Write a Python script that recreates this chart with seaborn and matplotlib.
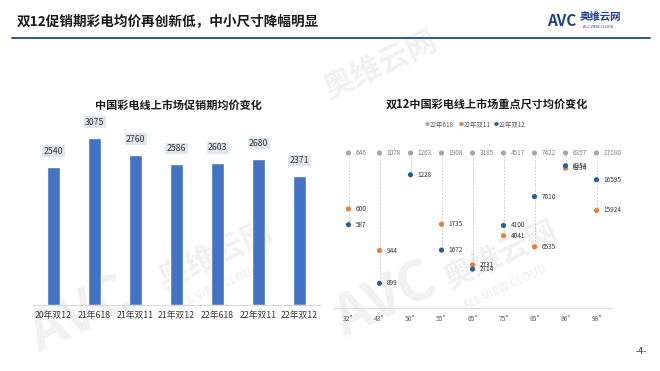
import numpy as np
import pandas as pd
import matplotlib
matplotlib.use("Agg")
import matplotlib.pyplot as plt
import seaborn as sns

sns.set_theme(style="white")
plt.rcParams['font.family'] = ['Noto Sans CJK SC', 'DejaVu Sans']

# ---- data ----
promo_periods = ["20年双12", "21年618", "21年双11", "21年双12", "22年618", "22年双11", "22年双12"]
promo_avg_price = [2540, 3075, 2760, 2586, 2603, 2680, 2371]

sizes = ['32"', '43"', '50"', '55"', '65"', '75"', '85"', '86"', '98"']
price_618 = [646, 1078, 1263, 1908, 3185, 4517, 7422, 6357, 17180]
price_d11 = [600, 944, np.nan, 1735, 2731, 4041, 6535, 6234, 15924]
price_d12 = [587, 899, 1228, 1672, 2714, 4100, 7010, 6254, 16595]
series_names = ["22年618", "22年双11", "22年双12"]

W, H = 660, 371
fig = plt.figure(figsize=(W / 100, H / 100), dpi=100)

def fx(px):
    return px / W

def fy(py):
    return 1 - py / H

# ---- faint watermarks on a background layer ----
axBG = fig.add_axes([0, 0, 1, 1], zorder=-5)
axBG.set_xlim(0, W)
axBG.set_ylim(H, 0)
axBG.axis("off")
wm = dict(color="#F1F1F1", fontweight="bold", rotation=25, ha="center", va="center")
for (x, y) in [(80, 315), (385, 300)]:
    axBG.text(x, y, "AVC", fontsize=40, style="italic", **wm)
for (x, y) in [(215, 255), (500, 255), (380, 65)]:
    axBG.text(x, y, "奥维云网", fontsize=22, **wm)
for (x, y) in [(218, 288), (505, 288)]:
    axBG.text(x, y, "ALL VIEW CLOUD", fontsize=8, **wm)

# ---- header ----
fig.text(fx(17), fy(22), "双12促销期彩电均价再创新低，中小尺寸降幅明显", fontsize=9.8,
         fontweight="bold", color="#1a1a1a", va="center", ha="left")
fig.add_artist(plt.Line2D([fx(12), fx(650)], [fy(38), fy(38)], color="#2F5597", lw=1.4))
fig.text(fx(547), fy(21), "AVC", fontsize=11, fontweight="bold", style="italic",
         color="#1F3F8F", va="center", ha="left")
fig.text(fx(580), fy(17), "奥维云网", fontsize=7.5, fontweight="bold",
         color="#1F3F8F", va="center", ha="left")
fig.text(fx(583), fy(27), "ALL VIEW CLOUD", fontsize=2.8, color="#1F3F8F", va="center", ha="left")
fig.text(fx(641), fy(352), "-4-", fontsize=6.5, color="#333333", ha="center", va="center")

# ---- left chart: bars ----
axL = fig.add_axes([fx(33), fy(305), (320 - 33) / W, (305 - 120) / H])
axL.patch.set_alpha(0)
dfL = pd.DataFrame({"period": promo_periods, "price": promo_avg_price})
sns.barplot(data=dfL, x="period", y="price", order=promo_periods, color="#4472C4",
            saturation=1, width=0.32, ax=axL)
axL.set_ylim(0, 3400)
axL.set_xlim(-0.5, len(promo_periods) - 0.5)
for i, v in enumerate(promo_avg_price):
    axL.annotate(f"{v}", (i, v), xytext=(0, 8), textcoords="offset points",
                 ha="center", va="bottom", fontsize=6.3, color="#333333",
                 bbox=dict(boxstyle="square,pad=0.15", fc="#DEE6F0", ec="none"))
axL.set_xlabel("")
axL.set_ylabel("")
axL.set_yticks([])
axL.tick_params(axis="x", length=0, labelsize=6.3, labelcolor="#333333", pad=4)
for s in ["top", "right", "left"]:
    axL.spines[s].set_visible(False)
axL.spines["bottom"].set_color("#D9D9D9")
axL.spines["bottom"].set_linewidth(0.8)
fig.text(fx(178), fy(105), "中国彩电线上市场促销期均价变化", fontsize=8, fontweight="bold",
         color="#1a1a1a", ha="center", va="center")

# ---- right chart: dot plot indexed to 618 price ----
axR = fig.add_axes([fx(333), fy(308), (612 - 333) / W, (308 - 140) / H])
axR.patch.set_alpha(0)
rows = []
for name, vals in zip(series_names, [price_618, price_d11, price_d12]):
    for s, v, ref in zip(sizes, vals, price_618):
        if not np.isnan(v):
            rows.append({"size": s, "series": name, "value": v, "idx": v / ref})
dfR = pd.DataFrame(rows)
dfR["xpos"] = dfR["size"].map({s: i for i, s in enumerate(sizes)})

for i, s in enumerate(sizes):
    lo = dfR.loc[dfR["size"] == s, "idx"].min()
    axR.plot([i, i], [1.0, lo], color="#BFBFBF", lw=0.6, ls=(0, (2, 2)), zorder=1)

palette = {"22年618": "#A5A5A5", "22年双11": "#ED7D31", "22年双12": "#1F5FAF"}
sns.scatterplot(data=dfR, x="xpos", y="idx", hue="series", hue_order=series_names,
                palette=palette, s=14, edgecolor="none", legend=False, ax=axR, zorder=3)
for _, r in dfR.iterrows():
    col = "#7F7F7F" if r["series"] == "22年618" else "#333333"
    axR.annotate(f"{int(r['value'])}", (r["xpos"], r["idx"]), xytext=(5, 0),
                 textcoords="offset points", ha="left", va="center", fontsize=4.6, color=col)
axR.set_xlim(-0.5, len(sizes) - 0.5)
axR.set_ylim(1 - 155 / 785, 1 + 13 / 785)
axR.set_xticks(range(len(sizes)))
axR.set_xticklabels(sizes)
axR.set_xlabel("")
axR.set_ylabel("")
axR.set_yticks([])
axR.tick_params(axis="x", length=0, labelsize=4.8, labelcolor="#595959", pad=5)
for s in ["top", "right", "left"]:
    axR.spines[s].set_visible(False)
axR.spines["bottom"].set_color("#D9D9D9")
axR.spines["bottom"].set_linewidth(0.8)
fig.text(fx(487), fy(105), "双12中国彩电线上市场重点尺寸均价变化", fontsize=8, fontweight="bold",
         color="#1a1a1a", ha="center", va="center")

# legend
lx = [427, 461, 496]
for x, name in zip(lx, series_names):
    fig.text(fx(x), fy(125), "●", fontsize=3.5, color=palette[name], ha="center", va="center")
    fig.text(fx(x + 3), fy(125), name, fontsize=4.6, color="#595959", ha="left", va="center")

fig.savefig("out.png", dpi=100)
